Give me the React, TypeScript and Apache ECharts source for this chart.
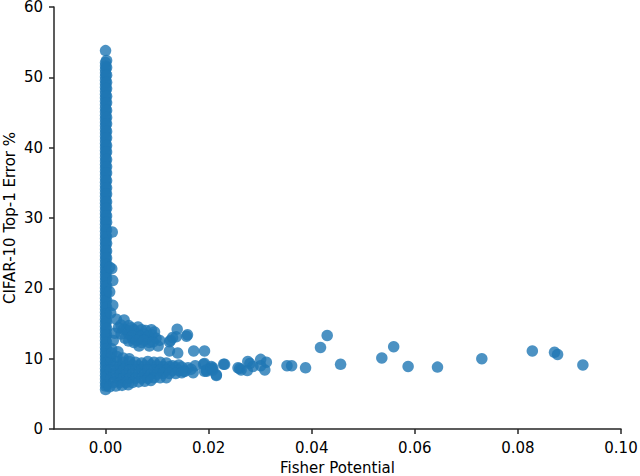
import React, { useEffect, useRef } from "react";
import * as echarts from "echarts";

// Vertical column of points at Fisher Potential ~ 0 (two interleaved strands)
const columnAX: number[] = [0.0];
const columnAY: number[] = [
  53.8, 52.1, 51.6, 51.1, 50.6, 50.1, 49.6, 49.1, 48.6, 48.1, 47.6, 47.1, 46.6, 46.1, 45.6,
  45.1, 44.6, 44.1, 43.6, 43.1, 42.6, 42.1, 41.6, 41.1, 40.6, 40.1, 39.6, 39.1, 38.6, 38.1,
  37.6, 37.1, 36.6, 36.1, 35.6, 35.1, 34.6, 34.1, 33.6, 33.1, 32.6, 32.1, 31.6, 31.1, 30.6,
  30.1, 29.6, 29.1, 28.6, 28.1, 27.6, 27.1, 26.6, 26.1, 25.6, 25.1, 24.6, 24.1, 23.6, 23.1,
  22.6, 22.1, 21.6, 21.1, 20.6, 20.1, 19.6, 19.1, 18.6, 18.1, 17.6, 17.1, 16.6, 16.1, 15.6,
  15.1, 14.6, 14.1, 13.6, 13.1, 12.6, 12.1, 11.6, 11.1, 10.6, 10.1, 9.6, 9.1, 8.6, 8.1,
  7.6, 7.1, 6.6, 6.1, 5.6,
];
const columnBX: number[] = [0.0002];
const columnBY: number[] = [
  52.4, 51.4, 50.3, 49.3, 48.4, 47.3, 46.4, 45.3, 44.3, 43.4, 42.3, 41.4, 40.3, 39.4, 38.3,
  37.3, 36.4, 35.3, 34.3, 33.4, 32.3, 31.4, 30.3, 29.4, 28.3, 27.3, 26.4, 25.3, 24.3, 23.4,
  22.3, 21.4, 20.3, 19.4, 18.3, 17.3, 16.4, 15.3, 14.3, 13.4, 12.3, 11.4, 10.3, 9.4, 8.3,
  7.4, 6.3,
];
// Stray points just right of the column
const strayX: number[] = [0.0013, 0.0012, 0.0008, 0.0014, 0.0008, 0.0014, 0.001];
const strayY: number[] = [28.0, 22.8, 23.0, 21.1, 19.5, 17.6, 16.5];

// Upper cluster near x 0.002 - 0.016, y 11 - 16
const clusterX: number[] = [
  0.0021, 0.0036, 0.003, 0.0045, 0.0063, 0.004, 0.0055, 0.007, 0.0089, 0.003,
  0.0045, 0.006, 0.0075, 0.009, 0.0038, 0.0052, 0.0066, 0.008, 0.0098, 0.0055,
  0.007, 0.0085, 0.0105, 0.0065, 0.0085, 0.0102, 0.0018, 0.0015, 0.0012,
  0.0035, 0.005, 0.0078, 0.0052, 0.0068, 0.0083, 0.0045, 0.006, 0.0075, 0.0092,
  0.0095, 0.0025,
  0.0139, 0.0159, 0.013, 0.0137, 0.0157, 0.0126, 0.0124, 0.0124, 0.014, 0.0171,
  0.0192,
];
const clusterY: number[] = [
  15.6, 15.5, 14.8, 14.7, 14.5, 14.1, 14.1, 14.1, 14.1, 13.5,
  13.5, 13.5, 13.5, 13.4, 12.9, 12.9, 12.9, 12.9, 12.9, 12.3,
  12.3, 12.3, 12.6, 11.8, 11.8, 11.8, 13.6, 12.6, 11.4,
  14.2, 14.4, 14.0, 13.2, 13.2, 13.2, 12.5, 12.6, 12.6, 12.4,
  13.8, 14.4,
  14.2, 13.4, 13.0, 13.1, 13.2, 12.6, 12.4, 11.1, 10.8, 11.1,
  11.1,
];

// Dense lower mass, x 0 - 0.017, y 6 - 10.5
const massX: number[] = [
  0.001, 0.0022, 0.0034, 0.0046, 0.0058, 0.007, 0.0082, 0.0094, 0.0106, 0.0118, 0.013, 0.0142,
  0.0016, 0.0028, 0.004, 0.0052, 0.0064, 0.0076, 0.0088, 0.01, 0.0112, 0.0124, 0.0136, 0.0148, 0.016,
  0.001, 0.0022, 0.0034, 0.0046, 0.0058, 0.007, 0.0082, 0.0094, 0.0106, 0.0118, 0.013, 0.0142, 0.0154, 0.0166,
  0.0016, 0.0028, 0.004, 0.0052, 0.0064, 0.0076, 0.0088, 0.01, 0.0112, 0.0124, 0.0136, 0.0148,
  0.001, 0.0022, 0.0034, 0.0046, 0.0058, 0.007, 0.0082, 0.0094, 0.0106, 0.0118,
  0.0016, 0.0028, 0.004, 0.0052, 0.0064, 0.0076, 0.0088,
  0.0008, 0.002, 0.0032, 0.0044,
  0.001, 0.0022, 0.0034, 0.0046,
  0.0012, 0.0024,
];
const massY: number[] = [
  9.6, 9.6, 9.5, 9.6, 9.5, 9.4, 9.6, 9.5, 9.5, 9.4, 9.0, 9.1,
  9.0, 9.0, 9.0, 9.1, 9.0, 9.0, 9.1, 9.0, 8.9, 8.9, 8.8, 8.8, 8.7,
  8.4, 8.4, 8.4, 8.4, 8.4, 8.4, 8.4, 8.4, 8.4, 8.4, 8.3, 8.3, 8.2, 8.5,
  7.8, 7.8, 7.8, 7.8, 7.8, 7.8, 7.8, 7.8, 7.9, 7.9, 7.9, 8.0,
  7.2, 7.2, 7.2, 7.2, 7.2, 7.2, 7.2, 7.3, 7.3, 7.3,
  6.6, 6.6, 6.6, 6.6, 6.7, 6.8, 6.9,
  6.0, 6.1, 6.2, 6.3,
  10.2, 10.3, 10.1, 10.0,
  10.8, 11.0,
];

// Points between the mass and the tail
const midX: number[] = [
  0.019, 0.0208, 0.0229, 0.0215, 0.0196, 0.0192, 0.0205, 0.0231, 0.0192, 0.0215,
  0.026, 0.0196, 0.0205, 0.0208, 0.0174, 0.0152, 0.017,
];
const midY: number[] = [
  9.2, 8.7, 9.2, 7.6, 8.2, 9.3, 8.9, 9.2, 8.2, 7.7,
  8.6, 8.4, 8.6, 8.4, 9.0, 8.2, 8.0,
];

// Sparse tail to the right
const tailX: number[] = [
  0.0257, 0.0263, 0.0275, 0.0276, 0.028, 0.0301, 0.0312, 0.0309, 0.0301, 0.0286,
  0.0352, 0.0361, 0.0388, 0.0417, 0.043, 0.0456, 0.0536, 0.0559, 0.0587, 0.0644,
  0.073, 0.0828, 0.0871, 0.0877, 0.0926,
];
const tailY: number[] = [
  8.7, 8.4, 8.3, 9.6, 9.3, 9.9, 9.5, 8.4, 9.0, 8.9,
  9.0, 9.0, 8.7, 11.6, 13.3, 9.2, 10.1, 11.7, 8.9, 8.8,
  10.0, 11.1, 10.9, 10.6, 9.1,
];

const xTicks: number[] = [0, 0.02, 0.04, 0.06, 0.08, 0.1];
const yTicks: number[] = [0, 10, 20, 30, 40, 50, 60];

function pairs(xs: number[], ys: number[]): number[][] {
  return ys.map((y, i) => [xs.length === 1 ? xs[0] : xs[i], y]);
}

export default function App() {
  const ref = useRef<HTMLDivElement>(null);
  useEffect(() => {
    document.body.style.margin = "0";
    if (!ref.current) return;
    const chart = echarts.init(ref.current, undefined, { renderer: "svg" });
    const data = [
      ...pairs(columnAX, columnAY),
      ...pairs(columnBX, columnBY),
      ...pairs(strayX, strayY),
      ...pairs(clusterX, clusterY),
      ...pairs(massX, massY),
      ...pairs(midX, midY),
      ...pairs(tailX, tailY),
    ];
    const font = "DejaVu Sans";
    const axisColor = "#262626";
    chart.setOption({
      animation: false,
      backgroundColor: "#ffffff",
      grid: {
        left: 54,
        right: 19,
        top: 7,
        bottom: 47,
        containLabel: false,
        outerBoundsMode: "none",
      },
      xAxis: {
        type: "value",
        min: -0.01,
        max: 0.1,
        name: "Fisher Potential",
        nameLocation: "middle",
        nameGap: 31,
        nameMoveOverlap: false,
        nameTextStyle: { fontFamily: font, fontSize: 15, color: "#000" },
        splitLine: { show: false },
        axisLine: { show: true, onZero: false, lineStyle: { color: axisColor, width: 1.5 } },
        axisTick: {
          show: true,
          customValues: xTicks,
          length: 5,
          lineStyle: { color: axisColor, width: 1.5 },
        },
        axisLabel: {
          customValues: xTicks,
          margin: 11,
          fontFamily: font,
          fontSize: 15,
          lineHeight: 15,
          color: "#000",
          formatter: (v: number) => v.toFixed(2),
        },
      },
      yAxis: {
        type: "value",
        min: 0,
        max: 60,
        interval: 10,
        name: "CIFAR-10 Top-1 Error %",
        nameLocation: "middle",
        nameRotate: 90,
        nameGap: 37,
        nameMoveOverlap: false,
        nameTextStyle: { fontFamily: font, fontSize: 15, color: "#000" },
        splitLine: { show: false },
        axisLine: { show: true, onZero: false, lineStyle: { color: axisColor, width: 1.5 } },
        axisTick: { show: true, length: 5, lineStyle: { color: axisColor, width: 1.5 } },
        axisLabel: {
          margin: 11,
          fontFamily: font,
          fontSize: 15,
          lineHeight: 14,
          color: "#000",
          formatter: (v: number) => (yTicks.includes(v) ? String(v) : ""),
        },
      },
      series: [
        {
          type: "scatter",
          data,
          symbol: "circle",
          symbolSize: 11.5,
          itemStyle: {
            color: "#1f77b4",
            opacity: 0.8,
            borderWidth: 0,
          },
          emphasis: { disabled: true },
        },
      ],
    });
    return () => chart.dispose();
  }, []);
  return <div ref={ref} style={{ width: 640, height: 476 }} />;
}
